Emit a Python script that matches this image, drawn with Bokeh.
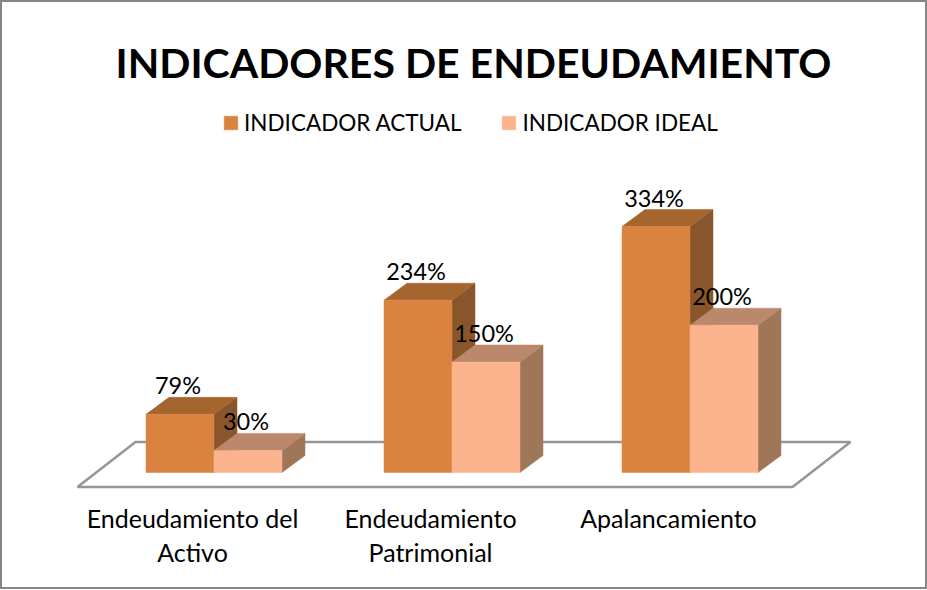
from bokeh.embed import file_html
from bokeh.resources import INLINE
from bokeh.core.properties import value
from bokeh.models import ColumnDataSource, Range1d, LinearAxis, FixedTicker, Legend, LegendItem
from bokeh.plotting import figure

categories = ["Endeudamiento del\nActivo", "Endeudamiento\nPatrimonial", "Apalancamiento"]
actual = [79, 234, 334]
ideal = [30, 150, 200]
actual_labels = ["79%", "234%", "334%"]
ideal_labels = ["30%", "150%", "200%"]
series_names = ["INDICADOR ACTUAL", "INDICADOR IDEAL"]
chart_title = "INDICADORES DE ENDEUDAMIENTO"

FONT = "Lato"
W, H = 927, 589
FRAME_TOP, FRAME_BOTTOM = 95, 490
PX_X = 238.0      # pixels per category
PX_Y = 0.7365     # pixels per percent
X0_PX = 192.0     # pixel of first category's label
Y0_PX = 472.0     # pixel of value 0

BAR = 68 / PX_X
DODGE = 21.5 / PX_X
DX = 23 / PX_X
DY = 17 / PX_Y

p = figure(width=W, height=H, output_backend="svg", toolbar_location=None,
           x_range=Range1d(-X0_PX / PX_X, (W - X0_PX) / PX_X),
           y_range=Range1d((Y0_PX - FRAME_BOTTOM) / PX_Y, (Y0_PX - FRAME_TOP) / PX_Y),
           x_axis_location=None, y_axis_location=None,
           min_border_left=0, min_border_right=0,
           min_border_top=FRAME_TOP, min_border_bottom=H - FRAME_BOTTOM,
           outline_line_color=None, background_fill_color=None, border_fill_color=None,
           styles={"outline": "2px solid #868686", "outline-offset": "-2px"})
p.grid.visible = False

p.title.text = chart_title
p.title.align = "left"
p.title.offset = 115
p.title.text_font = FONT
p.title.text_font_style = "bold"
p.title.text_font_size = "41px"
p.title.text_color = "#000000"
p.title.standoff = 17

# floor plane
fx0 = (77 - X0_PX) / PX_X
fx1 = (792 - X0_PX) / PX_X
fdx = 58 / PX_X
fy0 = (Y0_PX - 486.5) / PX_Y
fdy = 45 / PX_Y
p.patch([fx0, fx1, fx1 + fdx, fx0 + fdx], [fy0, fy0, fy0 + fdy, fy0 + fdy],
        fill_color="#FFFFFF", line_color="#969696", line_width=2.5)


def bars(vals, offset, front, top, side):
    xs = [i + DODGE + offset for i in range(len(vals))]
    tx, ty, sx, sy = [], [], [], []
    for x, v in zip(xs, vals):
        l, r = x - BAR / 2, x + BAR / 2
        tx.append([l, r, r + DX, l + DX])
        ty.append([v, v, v + DY, v + DY])
        sx.append([r, r + DX, r + DX, r])
        sy.append([0, DY, v + DY, v])
    p.patches(sx, sy, fill_color=side, line_color=side, line_width=0.5)
    p.patches(tx, ty, fill_color=top, line_color=top, line_width=0.5)
    return p.vbar(x=xs, top=vals, width=BAR, bottom=0, fill_color=front, line_color=front,
                  line_width=0.5), xs


r1, xs1 = bars(actual, -BAR / 2, "#DA8340", "#A5652F", "#89552A")
r2, xs2 = bars(ideal, BAR / 2, "#FBB48E", "#BB886C", "#A07659")

for xs, vals, labels in ((xs1, actual, actual_labels), (xs2, ideal, ideal_labels)):
    src = ColumnDataSource(dict(x=xs, y=vals, t=labels))
    p.text("x", "y", text="t", source=src, text_font=value(FONT), text_font_size="23.5px",
           text_align="center", text_baseline="middle", text_color="#000000",
           x_offset=-2, y_offset=-29)

axis = LinearAxis(ticker=FixedTicker(ticks=list(range(len(categories)))),
                  major_label_overrides={i: c for i, c in enumerate(categories)},
                  axis_line_color=None, major_tick_line_color=None, minor_tick_line_color=None,
                  major_label_text_font=FONT, major_label_text_font_size="25px",
                  major_label_text_color="#000000", major_label_standoff=6,
                  major_label_text_line_height=1.15,
                  major_label_orientation="horizontal")
p.add_layout(axis, "below")

legend = Legend(items=[LegendItem(label=series_names[0], renderers=[r1]),
                       LegendItem(label=series_names[1], renderers=[r2])],
                orientation="horizontal", location=(222, 354),
                border_line_color=None, background_fill_alpha=0,
                glyph_width=17, glyph_height=17, label_text_font=FONT,
                label_text_font_size="22.5px", label_text_color="#000000",
                label_standoff=5, spacing=39, padding=0, margin=0)
p.add_layout(legend)

open("out.html", "w").write(file_html(p, INLINE))
